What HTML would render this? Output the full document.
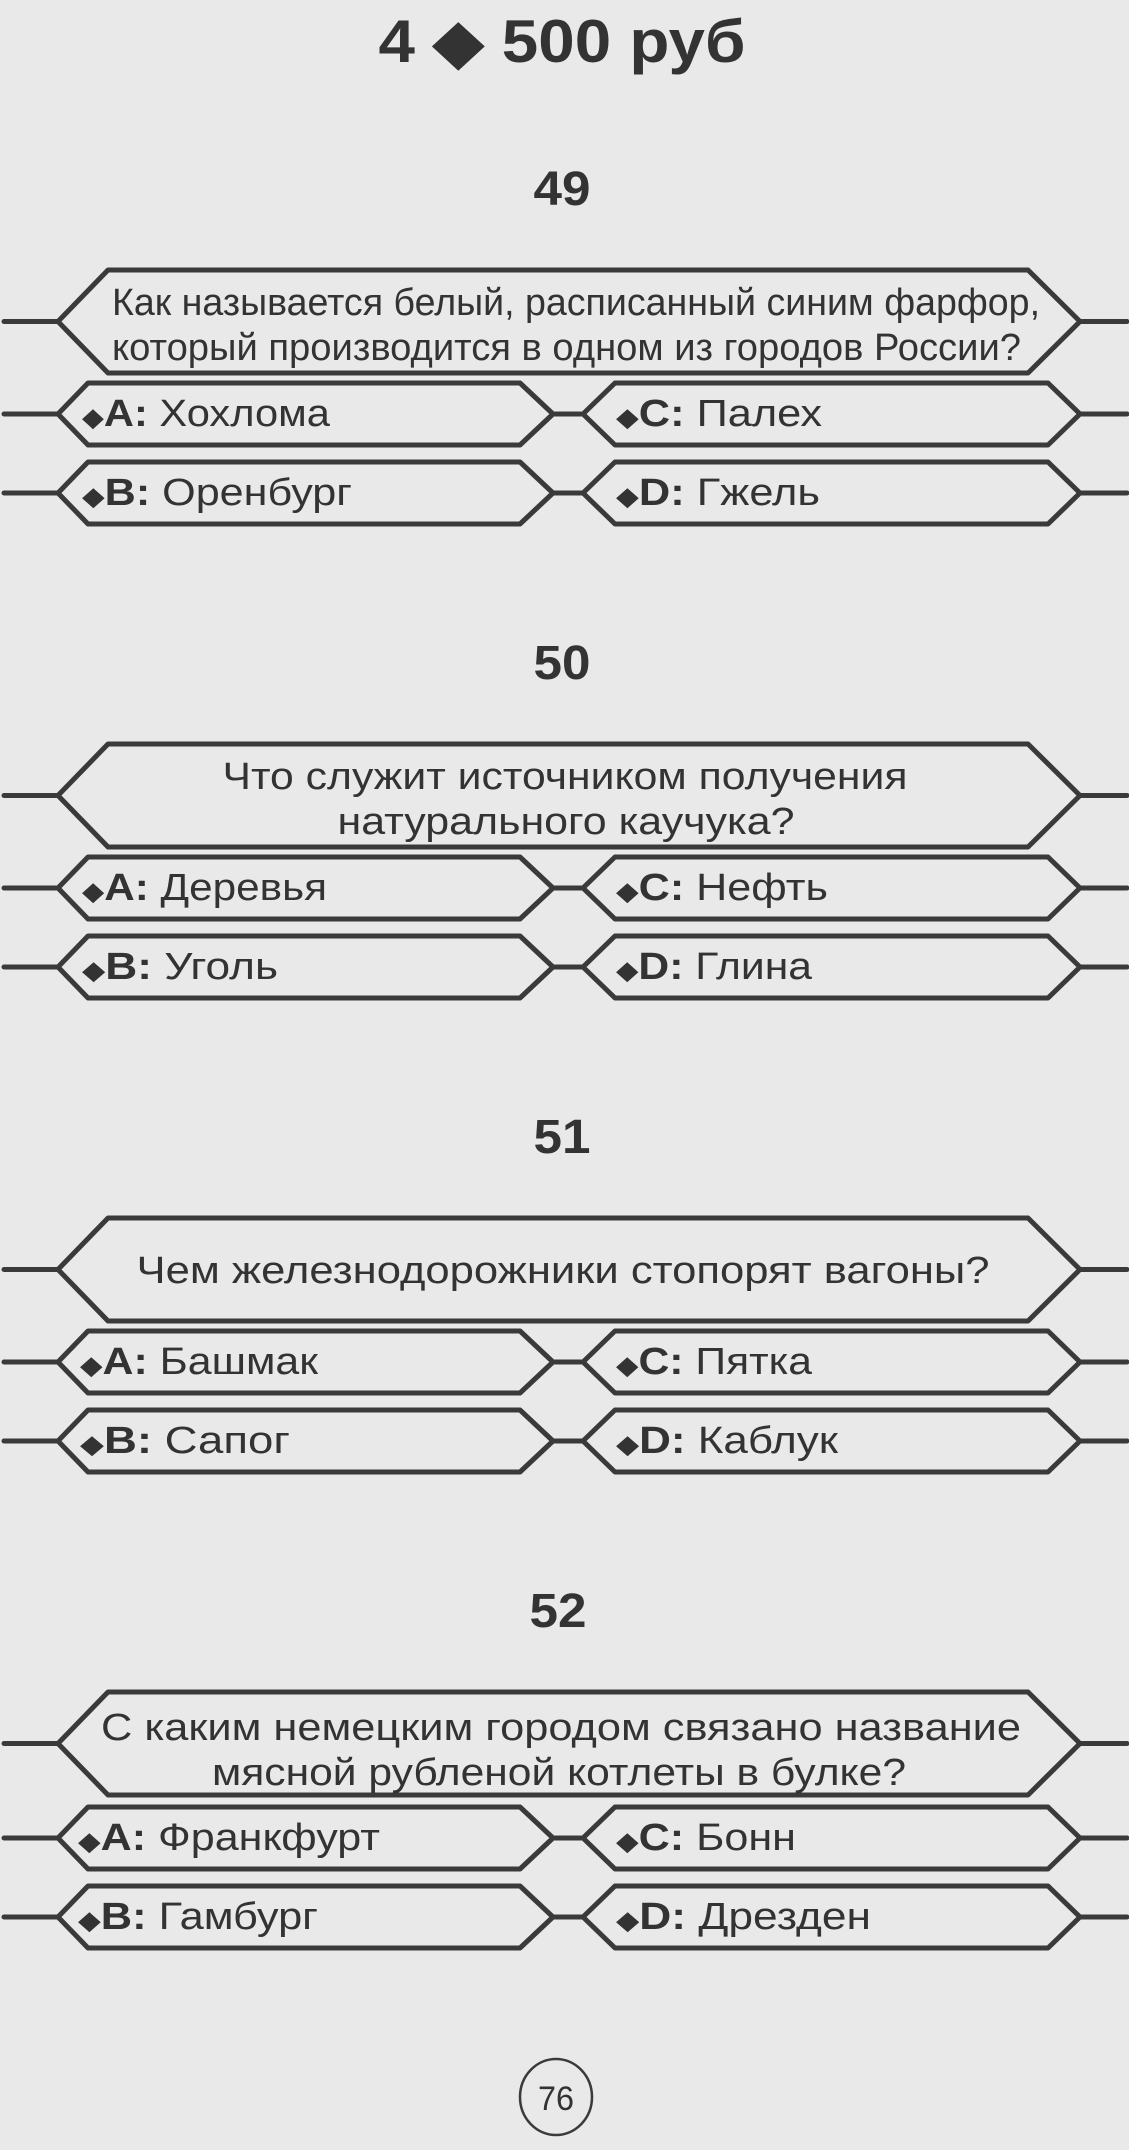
<!DOCTYPE html>
<html><head><meta charset="utf-8"><style>
html,body{margin:0;padding:0;background:#e9e9e9;}
svg{display:block}
text{font-family:"Liberation Sans",sans-serif;fill:#333;}
.q{font-size:38px;}
.a{font-size:38px;}
.b{font-weight:bold;}
.d{font-size:26px;}
</style></head><body>
<svg width="1129" height="2150" viewBox="0 0 1129 2150" xmlns="http://www.w3.org/2000/svg">
<rect width="1129" height="2150" fill="#e9e9e9"/>
<g fill="none" stroke="#3a3a3a" stroke-width="5" stroke-linejoin="round" stroke-linecap="round">
<polygon points="58,321.5 108,270 1028,270 1080,321.5 1028,373 108,373"/>
<line x1="4" y1="321.5" x2="58" y2="321.5"/><line x1="1080" y1="321.5" x2="1127" y2="321.5"/>
<polygon points="58,414 88,383 520,383 553,414 520,445 88,445"/>
<polygon points="583,414 615,383 1048,383 1080,414 1048,445 615,445"/>
<line x1="4" y1="414" x2="58" y2="414"/><line x1="553" y1="414" x2="583" y2="414"/><line x1="1080" y1="414" x2="1127" y2="414"/>
<polygon points="58,493 88,462 520,462 553,493 520,524 88,524"/>
<polygon points="583,493 615,462 1048,462 1080,493 1048,524 615,524"/>
<line x1="4" y1="493" x2="58" y2="493"/><line x1="553" y1="493" x2="583" y2="493"/><line x1="1080" y1="493" x2="1127" y2="493"/>
<polygon points="58,795.5 108,744 1028,744 1080,795.5 1028,847 108,847"/>
<line x1="4" y1="795.5" x2="58" y2="795.5"/><line x1="1080" y1="795.5" x2="1127" y2="795.5"/>
<polygon points="58,888 88,857 520,857 553,888 520,919 88,919"/>
<polygon points="583,888 615,857 1048,857 1080,888 1048,919 615,919"/>
<line x1="4" y1="888" x2="58" y2="888"/><line x1="553" y1="888" x2="583" y2="888"/><line x1="1080" y1="888" x2="1127" y2="888"/>
<polygon points="58,967 88,936 520,936 553,967 520,998 88,998"/>
<polygon points="583,967 615,936 1048,936 1080,967 1048,998 615,998"/>
<line x1="4" y1="967" x2="58" y2="967"/><line x1="553" y1="967" x2="583" y2="967"/><line x1="1080" y1="967" x2="1127" y2="967"/>
<polygon points="58,1269.5 108,1218 1028,1218 1080,1269.5 1028,1321 108,1321"/>
<line x1="4" y1="1269.5" x2="58" y2="1269.5"/><line x1="1080" y1="1269.5" x2="1127" y2="1269.5"/>
<polygon points="58,1362 88,1331 520,1331 553,1362 520,1393 88,1393"/>
<polygon points="583,1362 615,1331 1048,1331 1080,1362 1048,1393 615,1393"/>
<line x1="4" y1="1362" x2="58" y2="1362"/><line x1="553" y1="1362" x2="583" y2="1362"/><line x1="1080" y1="1362" x2="1127" y2="1362"/>
<polygon points="58,1441 88,1410 520,1410 553,1441 520,1472 88,1472"/>
<polygon points="583,1441 615,1410 1048,1410 1080,1441 1048,1472 615,1472"/>
<line x1="4" y1="1441" x2="58" y2="1441"/><line x1="553" y1="1441" x2="583" y2="1441"/><line x1="1080" y1="1441" x2="1127" y2="1441"/>
<polygon points="58,1743.5 108,1692 1028,1692 1080,1743.5 1028,1795 108,1795"/>
<line x1="4" y1="1743.5" x2="58" y2="1743.5"/><line x1="1080" y1="1743.5" x2="1127" y2="1743.5"/>
<polygon points="58,1838 88,1807 520,1807 553,1838 520,1869 88,1869"/>
<polygon points="583,1838 615,1807 1048,1807 1080,1838 1048,1869 615,1869"/>
<line x1="4" y1="1838" x2="58" y2="1838"/><line x1="553" y1="1838" x2="583" y2="1838"/><line x1="1080" y1="1838" x2="1127" y2="1838"/>
<polygon points="58,1917 88,1886 520,1886 553,1917 520,1948 88,1948"/>
<polygon points="583,1917 615,1886 1048,1886 1080,1917 1048,1948 615,1948"/>
<line x1="4" y1="1917" x2="58" y2="1917"/><line x1="553" y1="1917" x2="583" y2="1917"/><line x1="1080" y1="1917" x2="1127" y2="1917"/>
<ellipse cx="556" cy="2097" rx="36" ry="38" stroke-width="2.5"/>
</g>

<text x="562" y="62" text-anchor="middle" class="b" font-size="60" textLength="367" lengthAdjust="spacingAndGlyphs">4 ◆ 500 руб</text>
<text x="562" y="205" text-anchor="middle" class="b" font-size="48" textLength="57" lengthAdjust="spacingAndGlyphs">49</text>
<text x="562" y="679" text-anchor="middle" class="b" font-size="48" textLength="57" lengthAdjust="spacingAndGlyphs">50</text>
<text x="562" y="1153" text-anchor="middle" class="b" font-size="48" textLength="57" lengthAdjust="spacingAndGlyphs">51</text>
<text x="558" y="1627" text-anchor="middle" class="b" font-size="48" textLength="57" lengthAdjust="spacingAndGlyphs">52</text>
<text x="556" y="2110" text-anchor="middle" font-size="34" textLength="36" lengthAdjust="spacingAndGlyphs">76</text>

<text class="q" x="112" y="315" textLength="928" lengthAdjust="spacingAndGlyphs">Как называется белый, расписанный синим фарфор,</text>
<text class="q" x="112" y="360" textLength="909" lengthAdjust="spacingAndGlyphs">который производится в одном из городов России?</text>
<text class="q" x="565" y="789" text-anchor="middle" textLength="685" lengthAdjust="spacingAndGlyphs">Что служит источником получения</text>
<text class="q" x="566" y="834" text-anchor="middle" textLength="457" lengthAdjust="spacingAndGlyphs">натурального каучука?</text>
<text class="q" x="563" y="1283" text-anchor="middle" textLength="853" lengthAdjust="spacingAndGlyphs">Чем железнодорожники стопорят вагоны?</text>
<text class="q" x="561" y="1740" text-anchor="middle" textLength="920" lengthAdjust="spacingAndGlyphs">С каким немецким городом связано название</text>
<text class="q" x="559" y="1785" text-anchor="middle" textLength="694" lengthAdjust="spacingAndGlyphs">мясной рубленой котлеты в булке?</text>

<text class="a" x="82" y="426" textLength="248" lengthAdjust="spacingAndGlyphs"><tspan class="d">◆</tspan><tspan class="b">A:</tspan> Хохлома</text>
<text class="a" x="616" y="426" textLength="206" lengthAdjust="spacingAndGlyphs"><tspan class="d">◆</tspan><tspan class="b">C:</tspan> Палех</text>
<text class="a" x="82" y="505" textLength="270" lengthAdjust="spacingAndGlyphs"><tspan class="d">◆</tspan><tspan class="b">B:</tspan> Оренбург</text>
<text class="a" x="616" y="505" textLength="204" lengthAdjust="spacingAndGlyphs"><tspan class="d">◆</tspan><tspan class="b">D:</tspan> Гжель</text>
<text class="a" x="82" y="900" textLength="245" lengthAdjust="spacingAndGlyphs"><tspan class="d">◆</tspan><tspan class="b">A:</tspan> Деревья</text>
<text class="a" x="616" y="900" textLength="212" lengthAdjust="spacingAndGlyphs"><tspan class="d">◆</tspan><tspan class="b">C:</tspan> Нефть</text>
<text class="a" x="82" y="979" textLength="196" lengthAdjust="spacingAndGlyphs"><tspan class="d">◆</tspan><tspan class="b">B:</tspan> Уголь</text>
<text class="a" x="616" y="979" textLength="196" lengthAdjust="spacingAndGlyphs"><tspan class="d">◆</tspan><tspan class="b">D:</tspan> Глина</text>
<text class="a" x="80" y="1374" textLength="238" lengthAdjust="spacingAndGlyphs"><tspan class="d">◆</tspan><tspan class="b">A:</tspan> Башмак</text>
<text class="a" x="616" y="1374" textLength="196" lengthAdjust="spacingAndGlyphs"><tspan class="d">◆</tspan><tspan class="b">C:</tspan> Пятка</text>
<text class="a" x="80" y="1453" textLength="210" lengthAdjust="spacingAndGlyphs"><tspan class="d">◆</tspan><tspan class="b">B:</tspan> Сапог</text>
<text class="a" x="616" y="1453" textLength="222" lengthAdjust="spacingAndGlyphs"><tspan class="d">◆</tspan><tspan class="b">D:</tspan> Каблук</text>
<text class="a" x="78" y="1850" textLength="302" lengthAdjust="spacingAndGlyphs"><tspan class="d">◆</tspan><tspan class="b">A:</tspan> Франкфурт</text>
<text class="a" x="616" y="1850" textLength="180" lengthAdjust="spacingAndGlyphs"><tspan class="d">◆</tspan><tspan class="b">C:</tspan> Бонн</text>
<text class="a" x="78" y="1929" textLength="240" lengthAdjust="spacingAndGlyphs"><tspan class="d">◆</tspan><tspan class="b">B:</tspan> Гамбург</text>
<text class="a" x="616" y="1929" textLength="255" lengthAdjust="spacingAndGlyphs"><tspan class="d">◆</tspan><tspan class="b">D:</tspan> Дрезден</text>
</svg>
</body></html>
